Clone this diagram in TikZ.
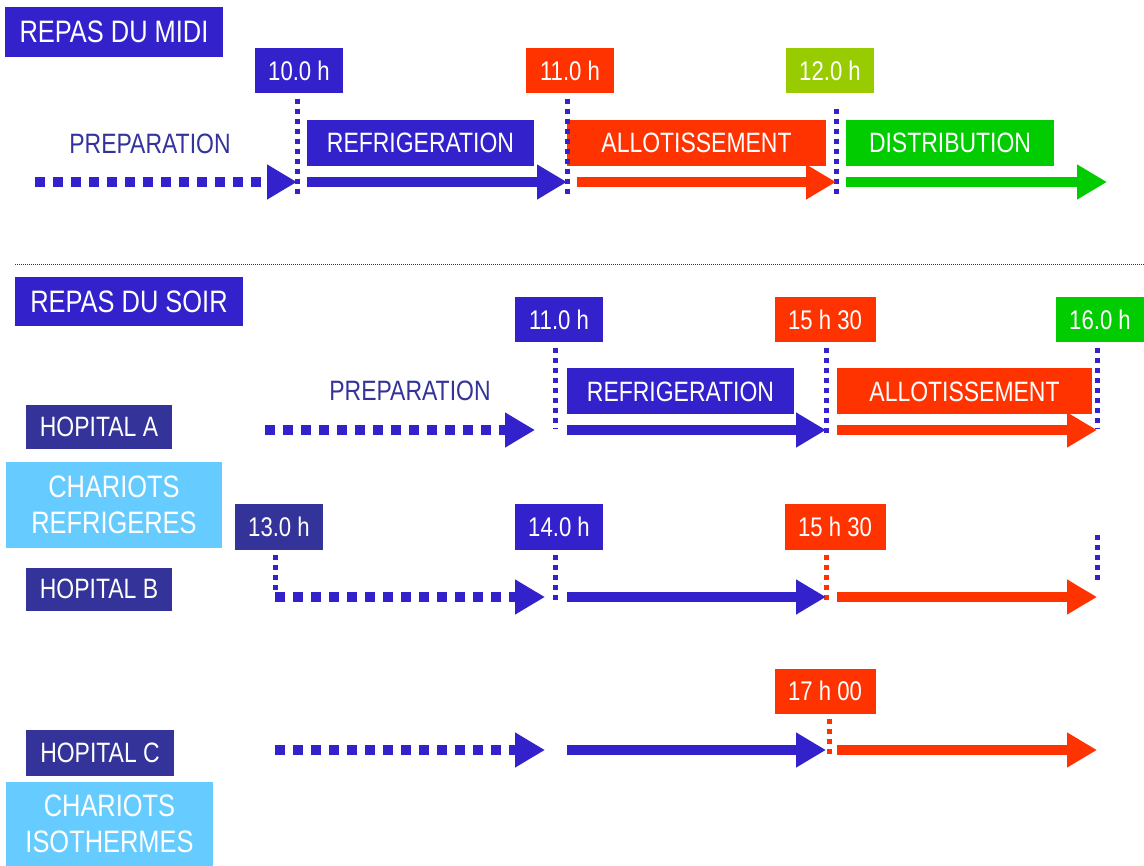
\documentclass[tikz,border=0pt]{standalone}
\usepackage{fontspec}
\usetikzlibrary{arrows.meta}
\newfontfamily\narfont[FakeStretch=0.82]{Liberation Sans}
\definecolor{vio}{HTML}{3322CC}
\definecolor{navy}{HTML}{333399}
\definecolor{rouge}{HTML}{FF3300}
\definecolor{vert}{HTML}{00CC00}
\definecolor{lime}{HTML}{99CC00}
\definecolor{sky}{HTML}{66CCFF}
\tikzset{
  x=1pt, y=-1pt,
  fs/.style={font={\narfont\fontsize{#1}{#1}\selectfont}},
  boxx/.style={fill=#1, text=white, inner sep=0pt, align=center},
  title/.style={boxx=vio, fs=31, minimum height=51pt},
  hour/.style={boxx=#1, fs=27, minimum width=88pt, minimum height=45pt},
  phase/.style={boxx=#1, fs=28, minimum height=46pt},
  hop/.style={boxx=navy, fs=28, minimum width=146pt, minimum height=44pt},
  chariot/.style={boxx=sky, fs=31, minimum width=216pt},
  plain/.style={text=navy, fs=28, inner sep=0pt},
  arr/.style={draw=#1, line width=10pt, -{Triangle[length=30pt,width=33pt]}},
  dotarr/.style={arr=vio, dash pattern=on 10pt off 8pt},
  vdot/.style={draw=#1, line width=5pt, dash pattern=on 5pt off 5pt},
}
\begin{document}
\begin{tikzpicture}
\useasboundingbox (0,0) rectangle (1144,866);
\fill[white] (0,0) rectangle (1144,866);

% ---------- REPAS DU MIDI ----------
\node[title, minimum width=218pt, minimum height=50pt] (midi) at (114,32) {REPAS DU MIDI};
\node[hour=vio]  (t10) at (299,71) {10.0 h};
\node[hour=rouge] (t11) at (570,71) {11.0 h};
\node[hour=lime] (t12) at (830,71) {12.0 h};
\node[plain] (prep1) at (150,144) {PREPARATION};
\node[phase=vio, minimum width=227pt] (refr1) at (420.5,143) {REFRIGERATION};
\node[phase=rouge, minimum width=259pt] (allo1) at (696.5,143) {ALLOTISSEMENT};
\node[phase=vert, minimum width=208pt] (dist1) at (950,143) {DISTRIBUTION};

\coordinate (m0) at (35,182);
\coordinate (m1) at (297,182);
\coordinate (m2s) at (307,182);
\coordinate (m2) at (567,182);
\coordinate (m3s) at (577,182);
\coordinate (m3) at (836,182);
\coordinate (m4s) at (846,182);
\coordinate (m4) at (1107,182);

\draw[vdot=vio] ([xshift=-2pt,yshift=-5pt]t10.south) -- (297,195);
\draw[vdot=vio] ([xshift=-3pt,yshift=-5pt]t11.south) -- (567,195);
\draw[vdot=vio] ([xshift=6pt,yshift=-15pt]t12.south) -- (836,195);

\draw[dotarr] (m0) -- (m1);
\draw[arr=vio] (m2s) -- (m2);
\draw[arr=rouge] (m3s) -- (m3);
\draw[arr=vert] (m4s) -- (m4);

% separator
\coordinate (sepa) at (15,264);
\coordinate (sepb) at (1144,264);
\draw[vio, line width=0.6pt, dash pattern=on 1pt off 1pt] (sepa) -- (sepb);

% ---------- REPAS DU SOIR ----------
\node[title, minimum width=228pt, minimum height=49pt] (soir) at (129,301.5) {REPAS DU SOIR};
\node[hour=vio]  (s11) at (559,320) {11.0 h};
\node[hour=rouge, minimum width=101pt] (s1530) at (825,320) {15 h 30};
\node[hour=vert] (s16) at (1100,320) {16.0 h};
\node[plain] (prep2) at (410,391) {PREPARATION};
\node[phase=vio, minimum width=227pt] (refr2) at (680.5,391.5) {REFRIGERATION};
\node[phase=rouge, minimum width=255pt] (allo2) at (964.5,391.5) {ALLOTISSEMENT};

% Hopital A
\node[hop] (hopA) at (99,427) {HOPITAL A};
\coordinate (a0) at (265,430);
\coordinate (a1) at (535,430);
\coordinate (a2s) at (567,430);
\coordinate (a2) at (826,430);
\coordinate (a3s) at (837,430);
\coordinate (a3) at (1097,430);
\draw[vdot=vio] ([xshift=-4pt,yshift=-5pt]s11.south) -- (555,428);
\draw[vdot=vio] ([xshift=1pt,yshift=-5pt]s1530.south) -- (826,437);
\draw[vdot=vio] ([xshift=-3pt,yshift=-5pt]s16.south) -- (1097,428);
\draw[dotarr] (a0) -- (a1);
\draw[arr=vio] (a2s) -- (a2);
\draw[arr=rouge] (a3s) -- (a3);

% Chariots refrigeres
\node[chariot, minimum height=86pt] (charR) at (114,505) {CHARIOTS\\[5pt]REFRIGERES};

% Hopital B
\node[hour=navy] (b13) at (279,527) {13.0 h};
\node[hour=vio]  (b14) at (559,527) {14.0 h};
\node[hour=rouge, minimum width=101pt] (b1530) at (835,527) {15 h 30};
\node[hop, minimum height=43pt] (hopB) at (99,589) {HOPITAL B};
\coordinate (b0) at (275,597);
\coordinate (b1) at (545,597);
\coordinate (b2s) at (567,597);
\coordinate (b2) at (826,597);
\coordinate (b3s) at (837,597);
\coordinate (b3) at (1097,597);
\coordinate (bva) at (1097,535);
\coordinate (bvb) at (1097,580);
\draw[vdot=vio] ([xshift=-4pt,yshift=-5pt]b13.south) -- (275,594);
\draw[vdot=vio] ([xshift=-4pt,yshift=-5pt]b14.south) -- (555,602);
\draw[vdot=rouge] ([xshift=-9pt,yshift=-5pt]b1530.south) -- (826,602);
\draw[vdot=vio] (bva) -- (bvb);
\draw[dotarr] (b0) -- (b1);
\draw[arr=vio] (b2s) -- (b2);
\draw[arr=rouge] (b3s) -- (b3);

% Hopital C
\node[hour=rouge, minimum width=101pt] (c17) at (825,691) {17 h 00};
\node[hop, minimum width=148pt, minimum height=46pt] (hopC) at (100,753) {HOPITAL C};
\coordinate (c0) at (275,750);
\coordinate (c1) at (545,750);
\coordinate (c2s) at (567,750);
\coordinate (c2) at (826,750);
\coordinate (c3s) at (837,750);
\coordinate (c3) at (1097,750);
\draw[vdot=rouge] ([xshift=4pt,yshift=-5pt]c17.south) -- (829,755);
\draw[dotarr] (c0) -- (c1);
\draw[arr=vio] (c2s) -- (c2);
\draw[arr=rouge] (c3s) -- (c3);

% Chariots isothermes
\node[chariot, minimum width=207pt, minimum height=84pt] (charI) at (109.5,824) {CHARIOTS\\[5pt]ISOTHERMES};
\end{tikzpicture}
\end{document}
